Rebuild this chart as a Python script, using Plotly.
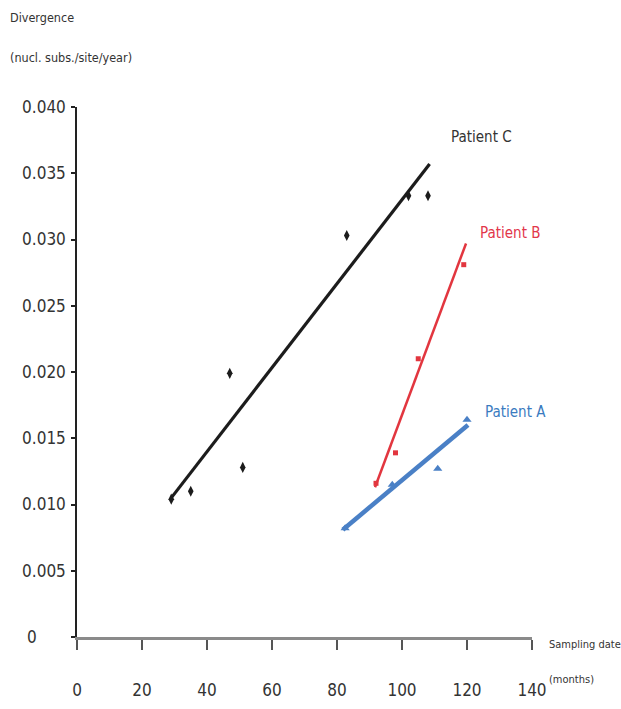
import plotly.graph_objects as go

# ---- data ----
patient_c_x = [29, 35, 47, 51, 83, 102, 108]
patient_c_y = [0.0104, 0.0110, 0.0199, 0.0128, 0.0303, 0.0333, 0.0333]
patient_c_fit_x = [29, 108.5]
patient_c_fit_y = [0.0105, 0.0357]

patient_b_x = [92, 98, 105, 119]
patient_b_y = [0.0116, 0.0139, 0.0210, 0.0281]
patient_b_fit_x = [91.7, 119.7]
patient_b_fit_y = [0.0113, 0.0297]

patient_a_x = [82.5, 97, 111, 120]
patient_a_y = [0.0082, 0.0115, 0.0127, 0.0164]
patient_a_fit_x = [81.8, 120.3]
patient_a_fit_y = [0.0081, 0.0160]

x_ticks = [0, 20, 40, 60, 80, 100, 120, 140]
y_ticks = [0, 0.005, 0.010, 0.015, 0.020, 0.025, 0.030, 0.035, 0.040]
y_tick_labels = ["0" + "\u00a0" * 6, "0.005", "0.010", "0.015", "0.020",
                 "0.025", "0.030", "0.035", "0.040"]

FONT = "DejaVu Sans Condensed, Liberation Sans Narrow, sans-serif"
BLACK = "#1c1c1c"
RED = "#e2363f"
BLUE = "#4a80c6"
TEXT = "#333333"

fig = go.Figure()

series = [
    (patient_a_x, patient_a_y, patient_a_fit_x, patient_a_fit_y, BLUE, "triangle-up", 4.5, 8),
    (patient_b_x, patient_b_y, patient_b_fit_x, patient_b_fit_y, RED, "square", 2.5, 5),
    (patient_c_x, patient_c_y, patient_c_fit_x, patient_c_fit_y, BLACK, "diamond-tall", 3.2, 8),
]
for px, py, fx, fy, col, sym, lw, ms in series:
    fig.add_trace(go.Scatter(x=fx, y=fy, mode="lines",
                             line=dict(color=col, width=lw), hoverinfo="skip"))
    fig.add_trace(go.Scatter(x=px, y=py, mode="markers",
                             marker=dict(symbol=sym, size=ms, color=col)))

labels = [
    ("Patient C", 124.5, 0.0377, "#333333"),
    ("Patient B", 133.2, 0.0305, "#e2364a"),
    ("Patient A", 134.8, 0.0170, "#3a7bbf"),
]
for txt, lx, ly, col in labels:
    fig.add_annotation(x=lx, y=ly, text=txt, showarrow=False,
                       font=dict(family=FONT, size=15, color=col))

# axis titles (plot area: x 77..532 px, y 107..637 px)
fig.add_annotation(xref="paper", yref="paper", x=-0.152, y=1.168, xanchor="left",
                   yanchor="middle", text="Divergence", showarrow=False,
                   font=dict(family=FONT, size=12.5, color=TEXT))
fig.add_annotation(xref="paper", yref="paper", x=-0.152, y=1.093, xanchor="left",
                   yanchor="middle", text="(nucl. subs./site/year)", showarrow=False,
                   font=dict(family=FONT, size=12.5, color=TEXT))
fig.add_annotation(xref="paper", yref="paper", x=1.033, y=-0.015, xanchor="left",
                   yanchor="middle", text="Sampling date", showarrow=False,
                   font=dict(family=FONT, size=11, color=TEXT))
fig.add_annotation(xref="paper", yref="paper", x=1.033, y=-0.081, xanchor="left",
                   yanchor="middle", text="(months)", showarrow=False,
                   font=dict(family=FONT, size=11, color=TEXT))

fig.update_layout(
    width=621, height=709,
    margin=dict(l=77, r=89, t=107, b=72),
    plot_bgcolor="white", paper_bgcolor="white",
    showlegend=False,
    font=dict(family=FONT, color=TEXT),
)
fig.update_xaxes(
    range=[0, 140], tickvals=x_ticks, showgrid=False, zeroline=False,
    showline=True, linecolor="#8a8a8a", linewidth=3,
    ticks="outside", ticklen=10, tickwidth=1.5, tickcolor="#555555",
    ticklabelstandoff=26, automargin=False,
    tickfont=dict(family=FONT, size=17, color=TEXT),
)
fig.update_yaxes(
    range=[0, 0.040], tickvals=y_ticks, ticktext=y_tick_labels,
    showgrid=False, zeroline=False,
    showline=True, linecolor="#222222", linewidth=1.5,
    ticks="outside", ticklen=4, tickwidth=1.5, tickcolor="#222222",
    ticklabelstandoff=2, automargin=False,
    tickfont=dict(family=FONT, size=17, color=TEXT),
)

fig.write_html("out.html",
               config={"displayModeBar": False},
               post_script="document.body.style.margin='0';"
                           "document.body.style.overflow='hidden';")
